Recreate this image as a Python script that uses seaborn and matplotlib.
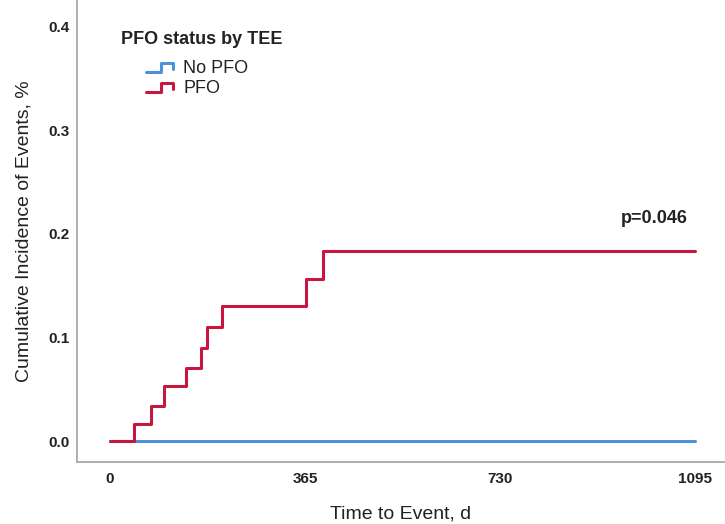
import numpy as np
import pandas as pd
import seaborn as sns
import matplotlib
matplotlib.use("Agg")
import matplotlib.pyplot as plt
from matplotlib.legend_handler import HandlerLine2D
from matplotlib.lines import Line2D

# Cumulative incidence step curves (time in days, incidence as fraction)
pfo_time = [0, 44, 77, 101, 142, 170, 182, 209, 366, 399, 1095]
pfo_incidence = [0.0, 0.017, 0.034, 0.053, 0.071, 0.090, 0.110, 0.131, 0.157, 0.184, 0.184]
no_pfo_time = [0, 1095]
no_pfo_incidence = [0.0, 0.0]

groups = ["No PFO", "PFO"]
x_ticks = [0, 365, 730, 1095]
y_ticks = [0.0, 0.1, 0.2, 0.3, 0.4]
p_text = "p=0.046"
legend_title = "PFO status by TEE"

df = pd.concat([
    pd.DataFrame({"time": no_pfo_time, "incidence": no_pfo_incidence, "group": groups[0]}),
    pd.DataFrame({"time": pfo_time, "incidence": pfo_incidence, "group": groups[1]}),
], ignore_index=True)

sns.set_style("white")
plt.rcParams["font.family"] = ["Liberation Sans", "DejaVu Sans"]

palette = {"No PFO": "#4b92db", "PFO": "#c8173f"}

W, H = 725, 524
fig = plt.figure(figsize=(W / 100, H / 100), dpi=100)
ax = fig.add_axes([0.1062, 0.1183, 0.8938, 0.8817])

sns.lineplot(data=df, x="time", y="incidence", hue="group", palette=palette,
             hue_order=groups, estimator=None, drawstyle="steps-post",
             linewidth=2.2, ax=ax, legend=False)

ax.set_xlim(-62, 1151)
ax.set_ylim(-0.0198, 0.4255)
ax.set_xticks(x_ticks)
ax.set_xticklabels([str(t) for t in x_ticks])
ax.set_yticks(y_ticks)
ax.set_yticklabels([f"{t:.1f}" for t in y_ticks])
ax.tick_params(axis="both", length=0, labelsize=11)
ax.tick_params(axis="y", pad=5)
ax.tick_params(axis="x", pad=7)
for lbl in ax.get_xticklabels() + ax.get_yticklabels():
    lbl.set_fontweight("bold")
    lbl.set_color("#222222")

ax.set_xlabel("Time to Event, d", fontsize=14, color="#222222", labelpad=14)
ax.set_ylabel("Cumulative Incidence of Events, %", fontsize=14, color="#222222", labelpad=12)

for side in ("top", "right"):
    ax.spines[side].set_visible(False)
for side in ("left", "bottom"):
    ax.spines[side].set_color("#a8a8a8")
    ax.spines[side].set_linewidth(1.3)

ax.text(1018, 0.215, p_text, fontsize=13, fontweight="bold", ha="center", va="center",
        color="#222222")


class StepHandler(HandlerLine2D):
    """Legend key drawn as a small step, like the survival curves."""
    def create_artists(self, legend, orig_handle, xdescent, ydescent, width, height,
                       fontsize, trans):
        x0, x1 = -xdescent, -xdescent + width
        xm = x0 + width * 0.55
        ylo, yhi = -ydescent + height * 0.1, -ydescent + height * 0.8
        xs = [x0, xm, xm, x1, x1]
        ys = [ylo, ylo, yhi, yhi, ylo + height * 0.2]
        line = Line2D(xs, ys, color=orig_handle.get_color(), linewidth=2.2,
                      transform=trans)
        return [line]


# Legend title set slightly left of the indented keys
fig.text(121 / W, 1 - 40 / H, legend_title, fontsize=13, fontweight="bold",
         ha="left", va="center", color="#222222")

handles = [Line2D([], [], color=palette[g]) for g in groups]
leg = fig.legend(handles, groups, loc="upper left",
                 bbox_to_anchor=(146 / W, 1 - 60 / H), bbox_transform=fig.transFigure,
                 frameon=False, fontsize=13, handler_map={Line2D: StepHandler()},
                 handlelength=1.5, handletextpad=0.55, labelspacing=0.17,
                 borderpad=0, borderaxespad=0)
for t in leg.get_texts():
    t.set_color("#222222")

fig.savefig("out.png", dpi=100)
